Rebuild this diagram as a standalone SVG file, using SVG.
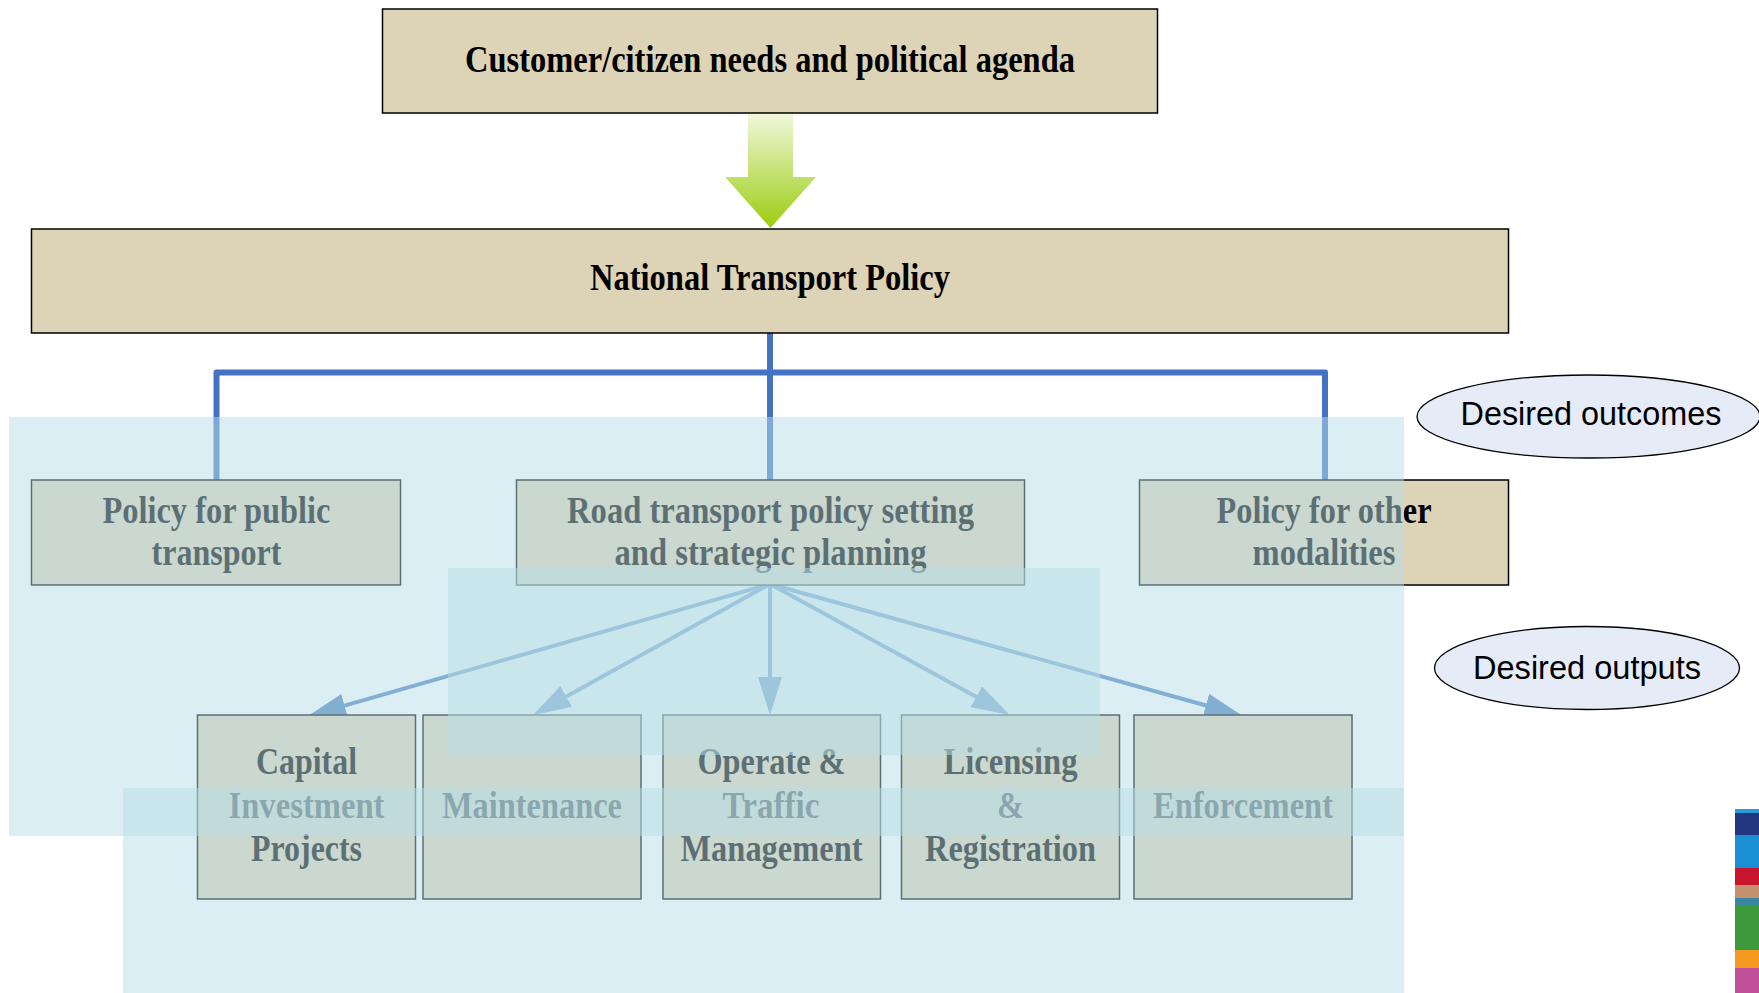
<svg xmlns="http://www.w3.org/2000/svg" width="1759" height="993" viewBox="0 0 1759 993">
<defs>
<style>
.box{fill:#ddd3b6;stroke:#000;stroke-width:1.5}
.t{font-family:"Liberation Serif","Times New Roman",serif;font-weight:bold;font-size:37px;fill:#000;text-anchor:middle}
.e{font-family:"Liberation Sans",Arial,sans-serif;font-size:32.5px;fill:#000;text-anchor:middle}
.ell{fill:#e5ecf7;stroke:#000;stroke-width:1.3}
.ov{fill:#b7dee8;fill-opacity:0.5}
.tree{fill:none;stroke:#4472c4;stroke-width:6;stroke-linecap:round;stroke-linejoin:round}
.arr{fill:none;stroke:#4f81bd;stroke-width:4;marker-end:url(#ah)}
</style>
<linearGradient id="gg" x1="0" y1="0" x2="0" y2="1">
<stop offset="0" stop-color="#f0f8dc"/>
<stop offset="1" stop-color="#9ccd10"/>
</linearGradient>
<marker id="ah" markerUnits="userSpaceOnUse" markerWidth="40" markerHeight="26" refX="30" refY="12" orient="auto">
<path d="M0,0 L38,12 L0,24 Z" fill="#4f81bd"/>
</marker>
</defs>
<rect width="1759" height="993" fill="#fff"/>

<g id="connectors">
<polygon points="748,113 793,113 793,177 816,177 770.5,228 725,177 748,177" fill="url(#gg)"/>
<path class="tree" d="M770,333 V480 M216.5,480 V372.5 H1325 V480"/>
<line class="arr" x1="770" y1="584" x2="315.7" y2="713.8"/>
<line class="arr" x1="770" y1="584" x2="540" y2="711.1"/>
<line class="arr" x1="770" y1="584" x2="770" y2="707"/>
<line class="arr" x1="770" y1="584" x2="1002.6" y2="711.2"/>
<line class="arr" x1="770" y1="584" x2="1234.8" y2="713.5"/>
</g>

<g id="n-customer">
<rect class="box" x="382.5" y="9" width="775" height="104"/>
<text class="t" x="770" y="71.5" textLength="610" lengthAdjust="spacingAndGlyphs">Customer/citizen needs and political agenda</text>
</g>
<g id="n-national">
<rect class="box" x="31.5" y="229" width="1477" height="104"/>
<text class="t" x="770" y="290" textLength="360" lengthAdjust="spacingAndGlyphs">National Transport Policy</text>
</g>
<g id="n-public">
<rect class="box" x="31.5" y="480" width="369" height="105"/>
<text class="t" x="216.5" y="523" textLength="228" lengthAdjust="spacingAndGlyphs">Policy for public</text>
<text class="t" x="216.5" y="565" textLength="130" lengthAdjust="spacingAndGlyphs">transport</text>
</g>
<g id="n-road">
<rect class="box" x="516.5" y="480" width="508" height="105"/>
<text class="t" x="770.5" y="523" textLength="407" lengthAdjust="spacingAndGlyphs">Road transport policy setting</text>
<text class="t" x="770.5" y="565" textLength="312" lengthAdjust="spacingAndGlyphs">and strategic planning</text>
</g>
<g id="n-other">
<rect class="box" x="1139.5" y="480" width="369" height="105"/>
<text class="t" x="1324" y="523" textLength="215" lengthAdjust="spacingAndGlyphs">Policy for other</text>
<text class="t" x="1324" y="565" textLength="143" lengthAdjust="spacingAndGlyphs">modalities</text>
</g>
<g id="n-capital">
<rect class="box" x="197.5" y="715" width="218" height="184"/>
<text class="t" x="306.5" y="774" textLength="101" lengthAdjust="spacingAndGlyphs">Capital</text>
<text class="t" x="306.5" y="818" textLength="156" lengthAdjust="spacingAndGlyphs">Investment</text>
<text class="t" x="306.5" y="861" textLength="111" lengthAdjust="spacingAndGlyphs">Projects</text>
</g>
<g id="n-maintenance">
<rect class="box" x="423" y="715" width="218" height="184"/>
<text class="t" x="532" y="818" textLength="180" lengthAdjust="spacingAndGlyphs">Maintenance</text>
</g>
<g id="n-operate">
<rect class="box" x="663" y="715" width="217.5" height="184"/>
<text class="t" x="771.5" y="774" textLength="148" lengthAdjust="spacingAndGlyphs">Operate &amp;</text>
<text class="t" x="771" y="818" textLength="97" lengthAdjust="spacingAndGlyphs">Traffic</text>
<text class="t" x="771.5" y="861" textLength="182" lengthAdjust="spacingAndGlyphs">Management</text>
</g>
<g id="n-licensing">
<rect class="box" x="901.5" y="715" width="218" height="184"/>
<text class="t" x="1010.5" y="774" textLength="134" lengthAdjust="spacingAndGlyphs">Licensing</text>
<text class="t" x="1010.5" y="818" textLength="27" lengthAdjust="spacingAndGlyphs">&amp;</text>
<text class="t" x="1010.5" y="861" textLength="171" lengthAdjust="spacingAndGlyphs">Registration</text>
</g>
<g id="n-enforcement">
<rect class="box" x="1134" y="715" width="218" height="184"/>
<text class="t" x="1243" y="818" textLength="180" lengthAdjust="spacingAndGlyphs">Enforcement</text>
</g>

<g id="overlays">
<rect class="ov" x="9" y="417" width="1395" height="419"/>
<rect class="ov" x="448" y="568" width="652" height="187"/>
<rect class="ov" x="123" y="788" width="1281" height="205"/>
</g>

<g id="n-outcomes">
<ellipse class="ell" cx="1588.5" cy="416.5" rx="171.5" ry="41.5"/>
<text class="e" x="1591" y="425" textLength="261" lengthAdjust="spacingAndGlyphs">Desired outcomes</text>
</g>
<g id="n-outputs">
<ellipse class="ell" cx="1587" cy="668" rx="152.5" ry="41.5"/>
<text class="e" x="1587" y="679" textLength="228" lengthAdjust="spacingAndGlyphs">Desired outputs</text>
</g>

<g id="colorbar">
<rect x="1735" y="809" width="24" height="4" fill="#2a9ad8"/>
<rect x="1735" y="813" width="24" height="22" fill="#22357f"/>
<rect x="1735" y="835" width="24" height="33" fill="#1a8fd3"/>
<rect x="1735" y="868" width="24" height="17" fill="#c8142c"/>
<rect x="1735" y="885" width="24" height="13" fill="#c49070"/>
<rect x="1735" y="898" width="24" height="8" fill="#3a87a0"/>
<rect x="1735" y="906" width="24" height="44" fill="#3c9a3c"/>
<rect x="1735" y="950" width="24" height="18" fill="#f49a20"/>
<rect x="1735" y="968" width="24" height="25" fill="#c0509a"/>
</g>
</svg>
